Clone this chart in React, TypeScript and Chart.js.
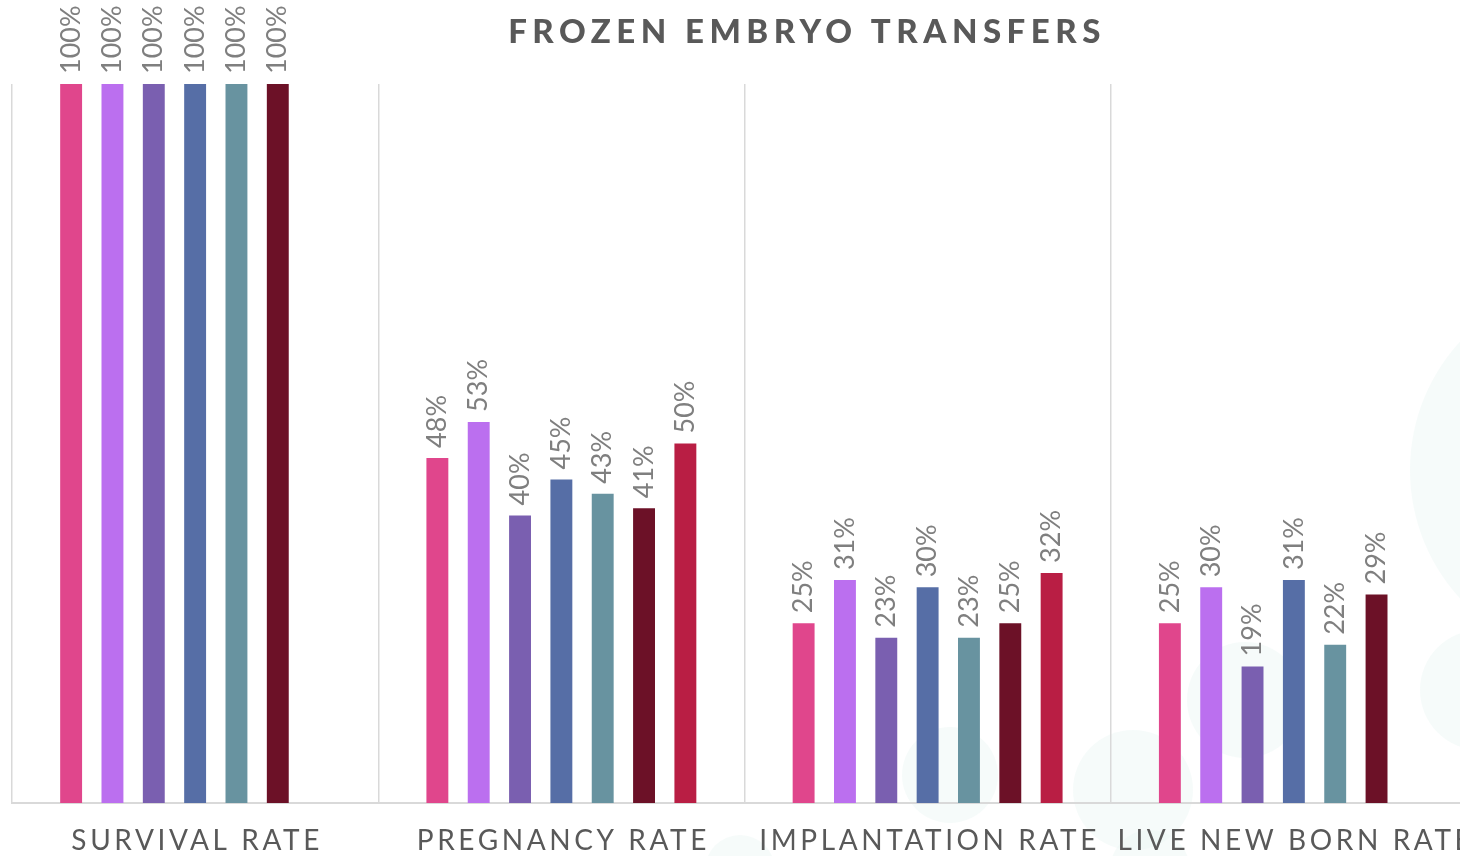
import React, { useEffect, useRef } from "react";
import { Chart, registerables } from "chart.js";

Chart.register(...registerables);

const chartTitle = "FROZEN EMBRYO TRANSFERS";
const categories = ["SURVIVAL RATE", "PREGNANCY RATE", "IMPLANTATION RATE", "LIVE NEW BORN RATE"];
const seriesNames = ["Series 1", "Series 2", "Series 3", "Series 4", "Series 5", "Series 6", "Series 7"];
const seriesColors = ["#E0468C", "#BB6FEF", "#7A5FB0", "#566EA6", "#6893A0", "#6C1127", "#B91E44"];

const series1 = [100, 48, 25, 25];
const series2 = [100, 53, 31, 30];
const series3 = [100, 40, 23, 19];
const series4 = [100, 45, 30, 31];
const series5 = [100, 43, 23, 22];
const series6 = [100, 41, 25, 29];
const series7 = [null, 50, 32, null];

const allSeries = [series1, series2, series3, series4, series5, series6, series7];

const FONT = "Lato, 'Open Sans', sans-serif";

const bgCircles = {
  id: "bgCircles",
  beforeDraw(chart: any) {
    const ctx = chart.ctx;
    ctx.save();
    ctx.fillStyle = "#ffffff";
    ctx.fillRect(0, 0, chart.width, chart.height);
    const circles = [
      [1245, 700, 58],
      [1133, 790, 60],
      [950, 775, 48],
      [1600, 470, 190],
      [1480, 690, 60],
      [1150, 870, 40],
      [740, 870, 35],
    ];
    ctx.fillStyle = "rgba(236, 246, 244, 0.45)";
    for (const [x, y, r] of circles) {
      ctx.beginPath();
      ctx.arc(x, y, r, 0, Math.PI * 2);
      ctx.fill();
    }
    ctx.restore();
  },
};

const textPlugin = {
  id: "textPlugin",
  afterDraw(chart: any) {
    const ctx = chart.ctx;
    const area = chart.chartArea;
    ctx.save();
    // Title
    ctx.fillStyle = "#595959";
    ctx.font = `900 33px ${FONT}`;
    (ctx as any).letterSpacing = "5.5px";
    ctx.textAlign = "center";
    ctx.textBaseline = "middle";
    ctx.fillText(chartTitle, 807, 32);
    // Category labels
    const xScale = chart.scales.x;
    ctx.font = `28px ${FONT}`;
    (ctx as any).letterSpacing = "3.6px";
    ctx.fillStyle = "#595959";
    categories.forEach((c, i) => {
      const x = xScale.getPixelForValue(i);
      ctx.fillText(c, x + 2, area.bottom + 38);
    });
    // Data labels
    (ctx as any).letterSpacing = "0px";
    ctx.font = `27px ${FONT}`;
    ctx.fillStyle = "#7f7f7f";
    ctx.textAlign = "left";
    ctx.textBaseline = "middle";
    chart.data.datasets.forEach((ds: any, di: number) => {
      const meta = chart.getDatasetMeta(di);
      meta.data.forEach((bar: any, i: number) => {
        const v = ds.data[i];
        if (v === null || v === undefined) return;
        ctx.save();
        ctx.translate(bar.x, bar.y - 10);
        ctx.rotate(-Math.PI / 2);
        ctx.fillText(`${Math.round(v)}%`, 0, 0);
        ctx.restore();
      });
    });
    ctx.restore();
  },
};

export default function App() {
  const ref = useRef<HTMLCanvasElement | null>(null);
  useEffect(() => {
    if (!ref.current) return;
    const chart = new Chart(ref.current, {
      type: "bar",
      data: {
        labels: categories,
        datasets: allSeries.map((d, i) => ({
          label: seriesNames[i],
          data: d,
          backgroundColor: seriesColors[i],
          borderWidth: 0,
          barPercentage: 0.53,
          categoryPercentage: 0.79,
        })),
      },
      options: {
        responsive: false,
        animation: false,
        layout: { padding: { top: 84, bottom: 53, left: 12, right: 13 } },
        plugins: {
          legend: { display: false },
          title: { display: false },
          tooltip: { enabled: false },
        },
        scales: {
          y: { display: false, min: 0, max: 100 },
          x: {
            grid: { offset: true, drawTicks: false, color: "#d9d9d9", lineWidth: 1.5 },
            border: { display: true, color: "#d9d9d9", width: 2 },
            ticks: { display: false },
          },
        },
      },
      plugins: [bgCircles, textPlugin],
    });
    return () => chart.destroy();
  }, []);
  return (
    <div style={{ position: "fixed", left: 0, top: 0, width: 1460, height: 856, overflow: "hidden", background: "#fff" }}>
      <canvas ref={ref} width={1490} height={856} style={{ display: "block" }} />
    </div>
  );
}
